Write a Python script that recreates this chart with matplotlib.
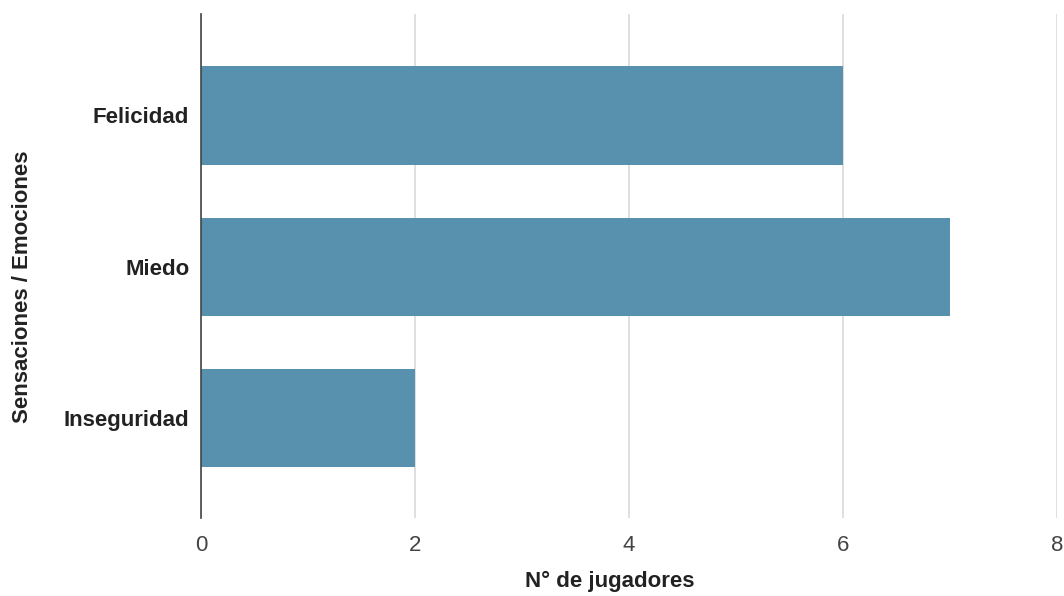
import matplotlib.pyplot as plt

# Datos
categorias = ["Felicidad", "Miedo", "Inseguridad"]
jugadores = [6, 7, 2]
xticks = [0, 2, 4, 6, 8]

plt.rcParams['font.family'] = ['Liberation Sans', 'DejaVu Sans']

fig = plt.figure(figsize=(10.64, 5.96), dpi=100)
ax = fig.add_axes([0.189, 0.131, 0.8044, 0.8455])

ypos = list(range(len(categorias)))
ax.barh(ypos, jugadores, height=0.65, color='#5891ae', zorder=2)

ax.set_yticks(ypos)
ax.set_yticklabels(categorias, fontsize=16, fontweight='bold', color='#222222')
ax.set_ylim(2.66, -0.67)
ax.set_xlim(0, 8)
ax.set_xticks(xticks)
ax.set_xticklabels([str(t) for t in xticks], fontsize=16, color='#444444')

ax.grid(axis='x', color='#d9d9d9', linewidth=1.2, zorder=0)
for s in ['top', 'right', 'bottom']:
    ax.spines[s].set_visible(False)
ax.spines['left'].set_color('#444444')
ax.spines['left'].set_linewidth(1.2)
ax.tick_params(axis='both', length=0)
ax.tick_params(axis='y', pad=8.5)
ax.tick_params(axis='x', pad=12)

ax.set_xlabel("N° de jugadores", fontsize=16, fontweight='bold', color='#222222')
ax.set_ylabel("Sensaciones / Emociones", fontsize=16, fontweight='bold', color='#222222')
ax.xaxis.set_label_coords(0.478, -0.106)
ax.yaxis.set_label_coords(-0.196, 0.458)

fig.savefig("out.png", dpi=100)
